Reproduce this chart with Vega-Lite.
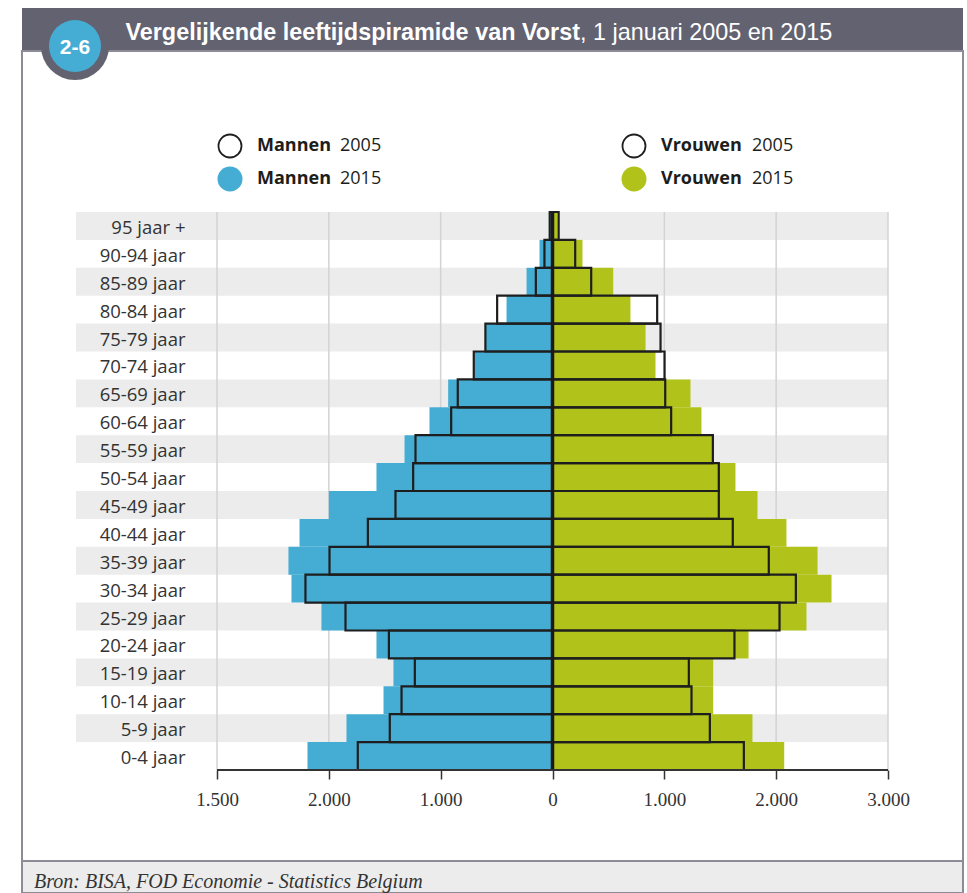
{
  "$schema": "https://vega.github.io/schema/vega-lite/v6.json",
  "padding": {"left": 21, "top": 8, "right": 5, "bottom": 0},
  "background": "white",
  "bounds": "flush",
  "spacing": 0,
  "config": {"view": {"stroke": null}, "concat": {"spacing": 0}},
  "datasets": {
    "header": [{"badge": "2-6", "title": "Vergelijkende leeftijdspiramide van Vorst", "rest": ", 1 januari 2005 en 2015"}],
    "footer": [{"source": "Bron: BISA, FOD Economie - Statistics Belgium"}],
    "legend": [
      {"sex": "Mannen", "year": "2005"},
      {"sex": "Mannen", "year": "2015"},
      {"sex": "Vrouwen", "year": "2005"},
      {"sex": "Vrouwen", "year": "2015"}
    ],
    "ages": [
      {"age": "0-4 jaar"}, {"age": "5-9 jaar"}, {"age": "10-14 jaar"}, {"age": "15-19 jaar"},
      {"age": "20-24 jaar"}, {"age": "25-29 jaar"}, {"age": "30-34 jaar"}, {"age": "35-39 jaar"},
      {"age": "40-44 jaar"}, {"age": "45-49 jaar"}, {"age": "50-54 jaar"}, {"age": "55-59 jaar"},
      {"age": "60-64 jaar"}, {"age": "65-69 jaar"}, {"age": "70-74 jaar"}, {"age": "75-79 jaar"},
      {"age": "80-84 jaar"}, {"age": "85-89 jaar"}, {"age": "90-94 jaar"}, {"age": "95 jaar +"}
    ],
    "grid": [{"g": -3000}, {"g": -2000}, {"g": -1000}, {"g": 1000}, {"g": 2000}, {"g": 3000}],
    "pop": [
      {"age": "95 jaar +", "sex": "Mannen", "year": "2005", "value": 25},
      {"age": "95 jaar +", "sex": "Mannen", "year": "2015", "value": 20},
      {"age": "95 jaar +", "sex": "Vrouwen", "year": "2005", "value": 55},
      {"age": "95 jaar +", "sex": "Vrouwen", "year": "2015", "value": 45},
      {"age": "90-94 jaar", "sex": "Mannen", "year": "2005", "value": 72},
      {"age": "90-94 jaar", "sex": "Mannen", "year": "2015", "value": 116},
      {"age": "90-94 jaar", "sex": "Vrouwen", "year": "2005", "value": 203},
      {"age": "90-94 jaar", "sex": "Vrouwen", "year": "2015", "value": 268},
      {"age": "85-89 jaar", "sex": "Mannen", "year": "2005", "value": 149},
      {"age": "85-89 jaar", "sex": "Mannen", "year": "2015", "value": 232},
      {"age": "85-89 jaar", "sex": "Vrouwen", "year": "2005", "value": 346},
      {"age": "85-89 jaar", "sex": "Vrouwen", "year": "2015", "value": 543},
      {"age": "80-84 jaar", "sex": "Mannen", "year": "2005", "value": 495},
      {"age": "80-84 jaar", "sex": "Mannen", "year": "2015", "value": 411},
      {"age": "80-84 jaar", "sex": "Vrouwen", "year": "2005", "value": 936},
      {"age": "80-84 jaar", "sex": "Vrouwen", "year": "2015", "value": 697},
      {"age": "75-79 jaar", "sex": "Mannen", "year": "2005", "value": 600},
      {"age": "75-79 jaar", "sex": "Mannen", "year": "2015", "value": 595},
      {"age": "75-79 jaar", "sex": "Vrouwen", "year": "2005", "value": 966},
      {"age": "75-79 jaar", "sex": "Vrouwen", "year": "2015", "value": 832},
      {"age": "70-74 jaar", "sex": "Mannen", "year": "2005", "value": 704},
      {"age": "70-74 jaar", "sex": "Mannen", "year": "2015", "value": 700},
      {"age": "70-74 jaar", "sex": "Vrouwen", "year": "2005", "value": 1002},
      {"age": "70-74 jaar", "sex": "Vrouwen", "year": "2015", "value": 921},
      {"age": "65-69 jaar", "sex": "Mannen", "year": "2005", "value": 847},
      {"age": "65-69 jaar", "sex": "Mannen", "year": "2015", "value": 933},
      {"age": "65-69 jaar", "sex": "Vrouwen", "year": "2005", "value": 1008},
      {"age": "65-69 jaar", "sex": "Vrouwen", "year": "2015", "value": 1234},
      {"age": "60-64 jaar", "sex": "Mannen", "year": "2005", "value": 906},
      {"age": "60-64 jaar", "sex": "Mannen", "year": "2015", "value": 1100},
      {"age": "60-64 jaar", "sex": "Vrouwen", "year": "2005", "value": 1061},
      {"age": "60-64 jaar", "sex": "Vrouwen", "year": "2015", "value": 1332},
      {"age": "55-59 jaar", "sex": "Mannen", "year": "2005", "value": 1225},
      {"age": "55-59 jaar", "sex": "Mannen", "year": "2015", "value": 1323},
      {"age": "55-59 jaar", "sex": "Vrouwen", "year": "2005", "value": 1434},
      {"age": "55-59 jaar", "sex": "Vrouwen", "year": "2015", "value": 1440},
      {"age": "50-54 jaar", "sex": "Mannen", "year": "2005", "value": 1246},
      {"age": "50-54 jaar", "sex": "Mannen", "year": "2015", "value": 1574},
      {"age": "50-54 jaar", "sex": "Vrouwen", "year": "2005", "value": 1487},
      {"age": "50-54 jaar", "sex": "Vrouwen", "year": "2015", "value": 1636},
      {"age": "45-49 jaar", "sex": "Mannen", "year": "2005", "value": 1404},
      {"age": "45-49 jaar", "sex": "Mannen", "year": "2015", "value": 2000},
      {"age": "45-49 jaar", "sex": "Vrouwen", "year": "2005", "value": 1487},
      {"age": "45-49 jaar", "sex": "Vrouwen", "year": "2015", "value": 1833},
      {"age": "40-44 jaar", "sex": "Mannen", "year": "2005", "value": 1651},
      {"age": "40-44 jaar", "sex": "Mannen", "year": "2015", "value": 2262},
      {"age": "40-44 jaar", "sex": "Vrouwen", "year": "2005", "value": 1612},
      {"age": "40-44 jaar", "sex": "Vrouwen", "year": "2015", "value": 2092},
      {"age": "35-39 jaar", "sex": "Mannen", "year": "2005", "value": 1994},
      {"age": "35-39 jaar", "sex": "Mannen", "year": "2015", "value": 2361},
      {"age": "35-39 jaar", "sex": "Vrouwen", "year": "2005", "value": 1934},
      {"age": "35-39 jaar", "sex": "Vrouwen", "year": "2015", "value": 2370},
      {"age": "30-34 jaar", "sex": "Mannen", "year": "2005", "value": 2209},
      {"age": "30-34 jaar", "sex": "Mannen", "year": "2015", "value": 2334},
      {"age": "30-34 jaar", "sex": "Vrouwen", "year": "2005", "value": 2176},
      {"age": "30-34 jaar", "sex": "Vrouwen", "year": "2015", "value": 2495},
      {"age": "25-29 jaar", "sex": "Mannen", "year": "2005", "value": 1851},
      {"age": "25-29 jaar", "sex": "Mannen", "year": "2015", "value": 2066},
      {"age": "25-29 jaar", "sex": "Vrouwen", "year": "2005", "value": 2030},
      {"age": "25-29 jaar", "sex": "Vrouwen", "year": "2015", "value": 2271},
      {"age": "20-24 jaar", "sex": "Mannen", "year": "2005", "value": 1463},
      {"age": "20-24 jaar", "sex": "Mannen", "year": "2015", "value": 1574},
      {"age": "20-24 jaar", "sex": "Vrouwen", "year": "2005", "value": 1627},
      {"age": "20-24 jaar", "sex": "Vrouwen", "year": "2015", "value": 1753},
      {"age": "15-19 jaar", "sex": "Mannen", "year": "2005", "value": 1231},
      {"age": "15-19 jaar", "sex": "Mannen", "year": "2015", "value": 1422},
      {"age": "15-19 jaar", "sex": "Vrouwen", "year": "2005", "value": 1219},
      {"age": "15-19 jaar", "sex": "Vrouwen", "year": "2015", "value": 1437},
      {"age": "10-14 jaar", "sex": "Mannen", "year": "2005", "value": 1350},
      {"age": "10-14 jaar", "sex": "Mannen", "year": "2015", "value": 1511},
      {"age": "10-14 jaar", "sex": "Vrouwen", "year": "2005", "value": 1243},
      {"age": "10-14 jaar", "sex": "Vrouwen", "year": "2015", "value": 1437},
      {"age": "5-9 jaar", "sex": "Mannen", "year": "2005", "value": 1455},
      {"age": "5-9 jaar", "sex": "Mannen", "year": "2015", "value": 1842},
      {"age": "5-9 jaar", "sex": "Vrouwen", "year": "2005", "value": 1407},
      {"age": "5-9 jaar", "sex": "Vrouwen", "year": "2015", "value": 1788},
      {"age": "0-4 jaar", "sex": "Mannen", "year": "2005", "value": 1741},
      {"age": "0-4 jaar", "sex": "Mannen", "year": "2015", "value": 2191},
      {"age": "0-4 jaar", "sex": "Vrouwen", "year": "2005", "value": 1711},
      {"age": "0-4 jaar", "sex": "Vrouwen", "year": "2015", "value": 2072}
    ]
  },
  "vconcat": [
    {
      "width": 941,
      "height": 43,
      "view": {"fill": "#636270", "stroke": null},
      "data": {"name": "header"},
      "layer": [
        {
          "mark": {"type": "text", "align": "right", "baseline": "alphabetic", "dx": 87.5, "dy": 10, "font": "Liberation Sans", "fontWeight": "bold", "fontSize": 23.4, "color": "white"},
          "encoding": {"text": {"field": "title"}}
        },
        {
          "mark": {"type": "text", "align": "left", "baseline": "alphabetic", "dx": 87.5, "dy": 10, "font": "Liberation Sans", "fontWeight": "normal", "fontSize": 23.4, "color": "white"},
          "encoding": {"text": {"field": "rest"}}
        }
      ]
    },
    {
      "width": 941,
      "height": 810,
      "view": {"stroke": "#8C8B96", "strokeWidth": 2},
      "resolve": {"scale": {"x": "independent", "y": "independent"}},
      "layer": [
        {
          "layer": [
            {
              "data": {"name": "ages"},
              "transform": [
                {"window": [{"op": "row_number", "as": "idx"}]},
                {"filter": "datum.idx % 2 == 0"}
              ],
              "mark": {"type": "rect", "color": "#EBECEB"},
              "encoding": {
                "y": {
                  "field": "age", "type": "nominal",
                  "scale": {"type": "band", "domain": ["95 jaar +", "90-94 jaar", "85-89 jaar", "80-84 jaar", "75-79 jaar", "70-74 jaar", "65-69 jaar", "60-64 jaar", "55-59 jaar", "50-54 jaar", "45-49 jaar", "40-44 jaar", "35-39 jaar", "30-34 jaar", "25-29 jaar", "20-24 jaar", "15-19 jaar", "10-14 jaar", "5-9 jaar", "0-4 jaar"], "range": [161, 719], "paddingInner": 0, "paddingOuter": 0},
                  "axis": {"orient": "left", "title": null, "domain": false, "ticks": false, "tickSize": 0, "grid": false, "labelPadding": -163, "labelAlign": "right", "labelBaseline": "middle", "labelOffset": 2, "labelFont": "Open Sans", "labelFontSize": 18.5, "labelColor": "#333333", "labelBound": false, "labelOverlap": false, "zindex": 3}
                },
                "x": {
                  "datum": -4261, "type": "quantitative",
                  "scale": {"domain": [-3000, 3000], "range": [195, 866], "nice": false, "zero": false},
                  "axis": {"orient": "bottom", "title": null, "values": [-3000, -2000, -1000, 0, 1000, 2000, 3000], "labelExpr": "datum.value == -3000 ? '1.500' : datum.value == -2000 ? '2.000' : datum.value == -1000 ? '1.000' : datum.value == 0 ? '0' : datum.value == 1000 ? '1.000' : datum.value == 2000 ? '2.000' : '3.000'", "domain": false, "grid": false, "ticks": true, "tickSize": 9, "tickWidth": 1.5, "tickColor": "#333333", "offset": -91, "labelFont": "Liberation Sans Narrow", "labelFontSize": 19, "labelColor": "#333333", "labelPadding": 11, "labelFlush": false, "labelOverlap": false, "zindex": 3}
                },
                "x2": {"datum": 3000}
              }
            },
            {
              "data": {"name": "grid"},
              "mark": {"type": "rule", "color": "#D3D3D3", "strokeWidth": 1.5},
              "encoding": {
                "x": {"field": "g", "type": "quantitative"},
                "y": {"datum": "95 jaar +", "type": "nominal", "bandPosition": 0},
                "y2": {"datum": "0-4 jaar", "bandPosition": 1}
              }
            },
            {
              "data": {"name": "pop"},
              "transform": [
                {"filter": "datum.year == '2015'"},
                {"calculate": "datum.sex == 'Mannen' ? -datum.value : datum.value", "as": "signed"}
              ],
              "mark": {"type": "bar", "stroke": null},
              "encoding": {
                "y": {"field": "age", "type": "nominal"},
                "x": {"field": "signed", "type": "quantitative"},
                "x2": {"datum": 0},
                "fill": {"field": "sex", "type": "nominal", "scale": {"domain": ["Mannen", "Vrouwen"], "range": ["#45ACD3", "#B1C31A"]}, "legend": null}
              }
            },
            {
              "data": {"name": "pop"},
              "transform": [
                {"filter": "datum.year == '2005'"},
                {"calculate": "datum.sex == 'Mannen' ? -datum.value : datum.value", "as": "signed"}
              ],
              "mark": {"type": "bar", "fill": "transparent", "stroke": "#1E1E1E", "strokeWidth": 2.2},
              "encoding": {
                "y": {"field": "age", "type": "nominal"},
                "x": {"field": "signed", "type": "quantitative"},
                "x2": {"datum": 0}
              }
            },
            {
              "data": {"name": "header"},
              "mark": {"type": "rule", "color": "#1A1A1A", "strokeWidth": 3.5},
              "encoding": {
                "x": {"datum": 0, "type": "quantitative"},
                "y": {"datum": "95 jaar +", "type": "nominal", "bandPosition": 0},
                "y2": {"datum": "0-4 jaar", "bandPosition": 1}
              }
            },
            {
              "data": {"name": "header"},
              "mark": {"type": "rule", "color": "#333333", "strokeWidth": 2},
              "encoding": {
                "x": {"datum": -3000, "type": "quantitative"},
                "x2": {"datum": 3000},
                "y": {"datum": "0-4 jaar", "type": "nominal", "bandPosition": 1}
              }
            }
          ]
        },
        {
          "data": {"name": "legend"},
          "encoding": {
            "x": {"field": "sex", "type": "nominal", "scale": {"type": "point", "domain": ["Mannen", "Vrouwen"], "range": [208, 612], "padding": 0}, "axis": null},
            "y": {"field": "year", "type": "nominal", "scale": {"type": "point", "domain": ["2005", "2015"], "range": [95, 128], "padding": 0}, "axis": null}
          },
          "layer": [
            {
              "transform": [{"filter": "datum.year == '2005'"}],
              "mark": {"type": "point", "filled": true, "fill": "white", "stroke": "#1E1E1E", "strokeWidth": 1.8, "size": 529, "opacity": 1}
            },
            {
              "transform": [{"filter": "datum.year == '2015'"}],
              "mark": {"type": "point", "filled": true, "size": 625, "opacity": 1},
              "encoding": {"fill": {"field": "sex", "type": "nominal", "scale": {"domain": ["Mannen", "Vrouwen"], "range": ["#45ACD3", "#B1C31A"]}, "legend": null}}
            },
            {
              "mark": {"type": "text", "align": "left", "baseline": "middle", "dx": 27, "font": "Open Sans", "fontWeight": "bold", "fontSize": 18, "color": "#1D1D1B"},
              "encoding": {"text": {"field": "sex"}}
            },
            {
              "transform": [{"filter": "datum.sex == 'Mannen'"}],
              "mark": {"type": "text", "align": "left", "baseline": "middle", "dx": 110, "font": "Open Sans", "fontWeight": "normal", "fontSize": 18, "color": "#1D1D1B"},
              "encoding": {"text": {"field": "year"}}
            },
            {
              "transform": [{"filter": "datum.sex == 'Vrouwen'"}],
              "mark": {"type": "text", "align": "left", "baseline": "middle", "dx": 118, "font": "Open Sans", "fontWeight": "normal", "fontSize": 18, "color": "#1D1D1B"},
              "encoding": {"text": {"field": "year"}}
            }
          ]
        },
        {
          "data": {"name": "header"},
          "layer": [
            {
              "mark": {"type": "point", "filled": true, "color": "#636270", "size": 4624, "opacity": 1},
              "encoding": {"xOffset": {"value": -417.5}, "yOffset": {"value": -410}}
            },
            {
              "mark": {"type": "point", "filled": true, "color": "#45ACD3", "size": 2704, "opacity": 1},
              "encoding": {"xOffset": {"value": -417.5}, "yOffset": {"value": -410}}
            },
            {
              "mark": {"type": "text", "align": "center", "baseline": "alphabetic", "dx": -417.5, "dy": -402.5, "font": "Liberation Sans", "fontWeight": "bold", "fontSize": 21, "color": "white"},
              "encoding": {"text": {"field": "badge"}}
            }
          ]
        }
      ]
    },
    {
      "width": 941,
      "height": 32,
      "view": {"fill": "#EBECEB", "stroke": "#8C8B96", "strokeWidth": 2},
      "data": {"name": "footer"},
      "mark": {"type": "text", "align": "left", "baseline": "middle", "dx": -458.5, "dy": 5, "font": "Liberation Sans Narrow", "fontStyle": "italic", "fontSize": 20, "color": "#333333"},
      "encoding": {"text": {"field": "source"}}
    }
  ]
}
